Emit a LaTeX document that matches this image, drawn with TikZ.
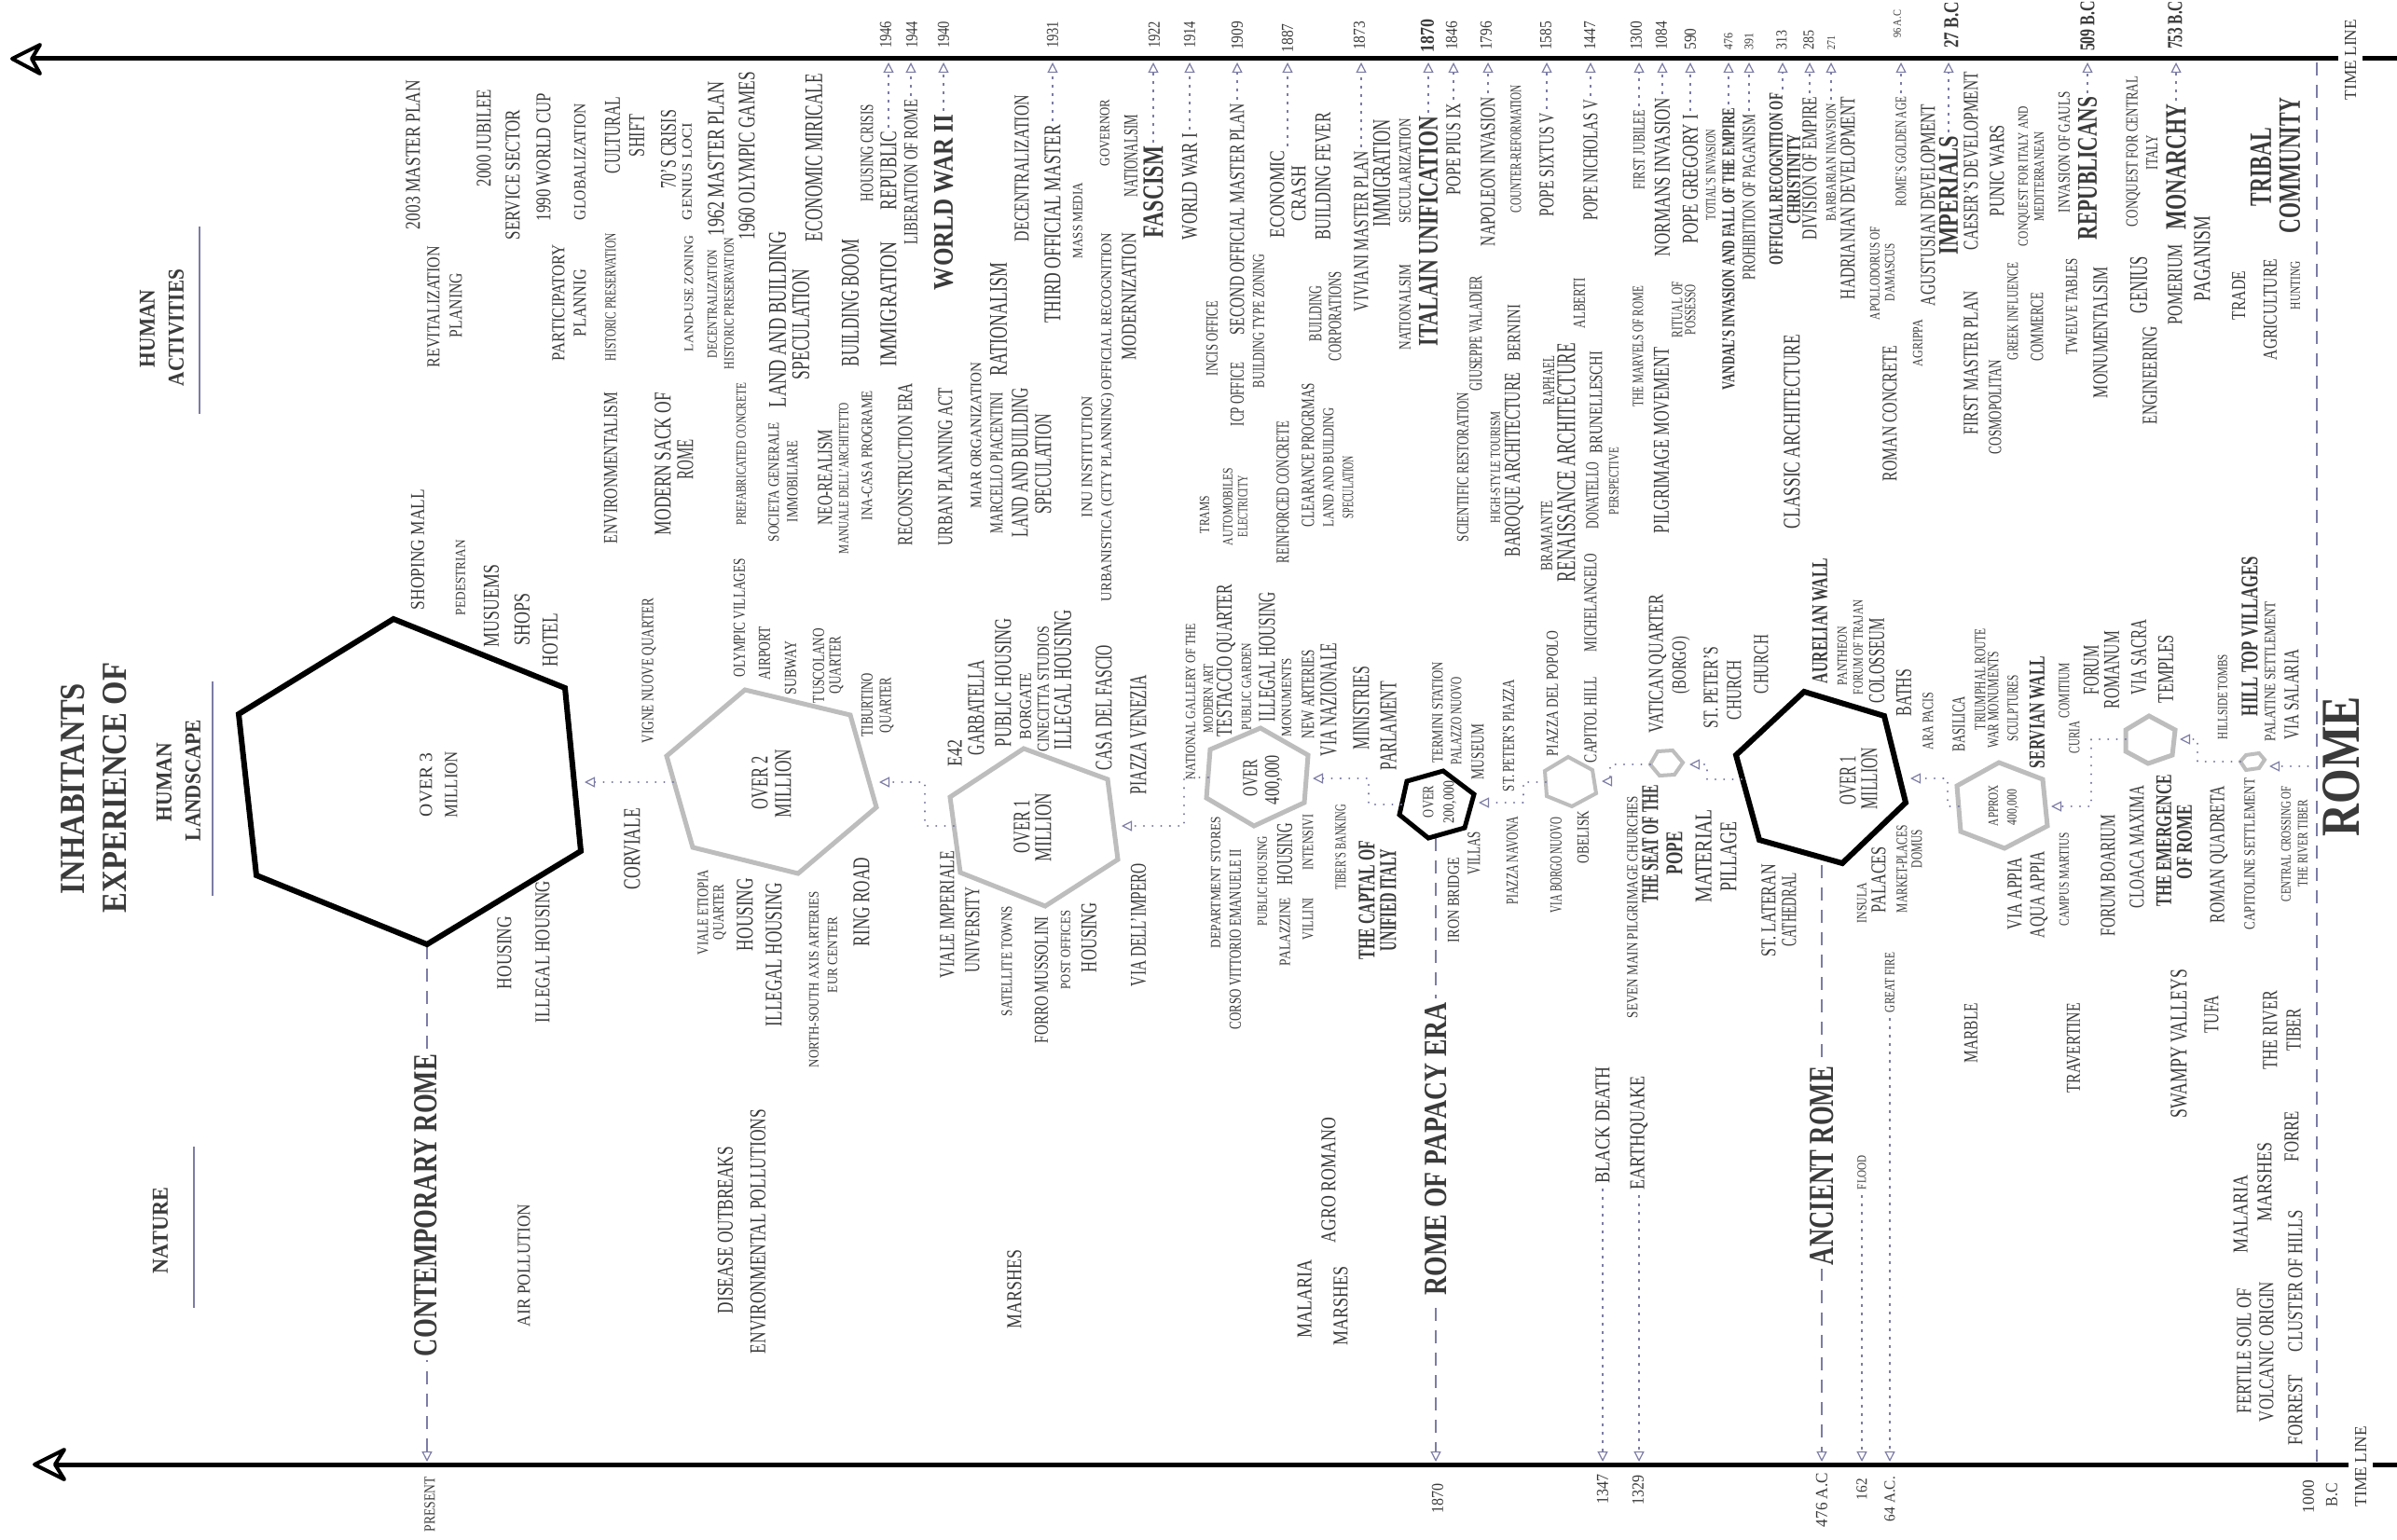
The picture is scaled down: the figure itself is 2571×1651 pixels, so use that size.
\documentclass[tikz,border=0pt]{standalone}
\usepackage{fontspec}
\setmainfont{Liberation Serif}
\usepackage{graphicx}
\usetikzlibrary{arrows.meta}
\definecolor{txtc}{HTML}{3A3A3A}
\definecolor{lnk}{HTML}{7C7CA6}
\definecolor{hexg}{HTML}{BDBDBD}
\newcounter{tn}
\newcommand\tx[6][]{\stepcounter{tn}\node[lbl,#1] (t\arabic{tn}) at (#2,#3) {\resizebox{#4pt}{#5pt}{#6}};}
\tikzset{
  lbl/.style={rotate=90, inner sep=0pt, text=txtc, anchor=center},
  tip/.style={-{Triangle[open,length=11pt,width=11pt,line width=1.2pt]}},
  dl/.style={draw=lnk, line width=1.6pt, dash pattern=on 3pt off 6pt, tip},
  hl/.style={draw=lnk, line width=2pt, line cap=round, dash pattern=on 0.3pt off 9pt, tip},
  era/.style={draw=lnk, line width=2pt, dash pattern=on 14pt off 10pt, tip},
  hdline/.style={draw=lnk, line width=1.6pt},
  tline/.style={draw=black, line width=5pt},
  thead/.style={draw=black, line width=4pt, fill=white, line join=round},
  hexb/.style={draw=black, line join=miter},
  hexgr/.style={draw=hexg, line join=miter},
  gap/.style={fill=white, inner xsep=4pt, inner ysep=2pt},
}
\begin{document}
\begin{tikzpicture}[x=1pt,y=-1pt]
\fill[white] (0,0) rectangle (2571,1651);
\useasboundingbox (0,0) rectangle (2571,1651);
% timelines
\coordinate (tlT) at (0,67);
\coordinate (tlB) at (0,1568);
\draw[tline] (34,63) -- (2571,63);
\draw[thead] (13,63) -- (43,48) -- (34,63) -- (43,79) -- cycle;
\draw[tline] (59,1571) -- (2571,1571);
\draw[thead] (37,1571) -- (69,1555) -- (59,1571) -- (69,1587) -- cycle;
% header rules
\draw[hdline] (214,243) -- (214,444);
\draw[hdline] (228,731) -- (228,961);
\draw[hdline] (208,1230) -- (208,1403);
% era lines
\coordinate (eraC) at (458,1015);
\coordinate (eraP) at (1540,899);
\coordinate (eraA) at (1954,928);
\draw[era] (eraC) -- (eraC |- tlB);
\draw[era] (eraP) -- (eraP |- tlB);
\draw[era] (eraA) -- (eraA |- tlB);
\coordinate (bcT) at (2485,67);
\draw[draw=lnk, line width=2pt, dash pattern=on 14pt off 10pt] (bcT) -- (bcT |- tlB);
% hexagons
\draw[hexb, line width=6pt] (422,664) -- (606,738) -- (623,913) -- (458,1013) -- (275,939) -- (256,766) -- cycle;
\draw[hexgr, line width=5pt] (799,740) -- (912,767) -- (940,866) -- (856,937) -- (743,909) -- (715,811) -- cycle;
\draw[hexgr, line width=5pt] (1098,803) -- (1188,836) -- (1199,922) -- (1121,972) -- (1030,936) -- (1019,855) -- cycle;
\draw[hexgr, line width=5pt] (1352,781) -- (1403,810) -- (1399,861) -- (1345,886) -- (1294,856) -- (1298,804) -- cycle;
\draw[hexb, line width=5pt] (1548,827) -- (1581,852) -- (1571,888) -- (1532,899) -- (1501,874) -- (1509,838) -- cycle;
\draw[hexgr, line width=4pt] (1682,812) -- (1708,826) -- (1712,851) -- (1686,865) -- (1659,854) -- (1657,827) -- cycle;
\draw[hexgr, line width=4pt] (1778,806) -- (1794,805) -- (1805,818) -- (1796,831) -- (1780,832) -- (1770,820) -- cycle;
\draw[hexb, line width=6pt] (1935,742) -- (2021,768) -- (2044,861) -- (1976,926) -- (1887,901) -- (1862,810) -- cycle;
\draw[hexgr, line width=5pt] (2144,818) -- (2191,836) -- (2196,886) -- (2150,910) -- (2103,892) -- (2099,843) -- cycle;
\draw[hexgr, line width=5pt] (2305,768) -- (2333,783) -- (2330,810) -- (2304,819) -- (2280,806) -- (2280,783) -- cycle;
\draw[hexgr, line width=4pt] (2409,810) -- (2423,808) -- (2429,815) -- (2423,824) -- (2409,826) -- (2403,817) -- cycle;
% hex links
\coordinate (a1) at (722,839); \coordinate (b1) at (627,839);
\draw[hl] (a1) -- (b1);
\coordinate (a2) at (1023,886); \coordinate (b2) at (943,839);
\draw[hl] (a2) -- (992,886) -- (992,839) -- (b2);
\coordinate (a3) at (1296,834); \coordinate (b3) at (1203,886);
\draw[hl] (a3) -- (1270,834) -- (1270,886) -- (b3);
\coordinate (a4) at (1503,863); \coordinate (b4) at (1408,835);
\draw[hl] (a4) -- (1468,863) -- (1468,835) -- (b4);
\coordinate (a5) at (1658,839); \coordinate (b5) at (1586,861);
\draw[hl] (a5) -- (1634,839) -- (1634,861) -- (b5);
\coordinate (a6) at (1770,820); \coordinate (b6) at (1718,838);
\draw[hl] (a6) -- (1727,820) -- (1727,838) -- (b6);
\coordinate (a7) at (1868,836); \coordinate (b7) at (1812,820);
\draw[hl] (a7) -- (1831,836) -- (1831,820) -- (b7);
\coordinate (a8) at (2101,865); \coordinate (b8) at (2049,835);
\draw[hl] (a8) -- (2089,865) -- (2089,835) -- (b8);
\coordinate (a9) at (2280,793); \coordinate (b9) at (2200,865);
\draw[hl] (a9) -- (2243,793) -- (2243,865) -- (b9);
\coordinate (a10) at (2403,817); \coordinate (b10) at (2338,793);
\draw[hl] (a10) -- (2357,817) -- (2357,793) -- (b10);
\coordinate (a11) at (2485,822); \coordinate (b11) at (2434,822);
\draw[hl] (a11) -- (b11);

% ---------- labels ----------
\tx{158}{352.5}{83}{16}{\bfseries HUMAN}
\tx{189}{351.5}{125}{16}{\bfseries ACTIVITIES}
\tx{443}{166}{160}{15}{2003 MASTER PLAN}
\tx{465}{329}{130}{13}{REVITALIZATION}
\tx{489}{327.5}{69}{13}{PLANING}
\tx{519}{148}{104}{15}{2000 JUBILEE}
\tx{550}{187.5}{139}{15}{SERVICE SECTOR}
\tx{583}{168.5}{137}{15}{1990 WORLD CUP}
\tx{622}{173.5}{125}{12}{GLOBALIZATION}
\tx{599}{324.5}{125}{13}{PARTICIPATORY}
\tx{622}{325}{72}{13}{PLANNIG}
\tx{448}{589.5}{129}{14}{SHOPING MALL}
\tx{657}{145}{82}{16}{CULTURAL}
\tx{683}{145.5}{45}{16}{SHIFT}
\tx{655}{318.5}{137}{11}{HISTORIC PRESERVATION}
\tx{655}{502}{162}{14}{ENVIRONMENTALISM}
\tx{717}{160}{84}{16}{70'S CRISIS}
\tx{737}{184}{104}{10}{GENIUS LOCI}
\tx{711}{497.5}{153}{17}{MODERN SACK OF}
\tx{735}{492.5}{43}{17}{ROME}
\tx{739}{315}{124}{9}{LAND-USE ZONING}
\tx{764}{326}{116}{10}{DECENTRALIZATION}
\tx{768}{170}{166}{17}{1962 MASTER PLAN}
\tx{782}{325.5}{141}{10}{HISTORIC PRESERVATION}
\tx{801}{167}{180}{17}{1960 OLYMPIC GAMES}
\tx{795}{487}{152}{10}{PREFABRICATED CONCRETE}
\tx{834}{342.5}{189}{18}{LAND AND BUILDING}
\tx{859}{348}{118}{18}{SPECULATION}
\tx{830}{517}{128}{11}{SOCIETA GENERALE}
\tx{850}{516.5}{87}{11}{IMMOBILIARE}
\tx{873}{169}{180}{18}{ECONOMIC MIRICALE}
\tx{912}{325}{136}{18}{BUILDING BOOM}
\tx{885}{512}{102}{15}{NEO-REALISM}
\tx{905}{513}{162}{10}{MANUALE DELL'ARCHITETTO}
\tx{930}{488.5}{139}{11}{INA-CASA PROGRAME}
\tx{930}{164}{104}{13}{HOUSING CRISIS}
\tx[alias=rep]{953}{183}{84}{17}{REPUBLIC}
\tx{953}{326}{134}{17}{IMMIGRATION}
\tx[alias=lib]{977}{184.5}{155}{14}{LIBERATION OF ROME}
\tx{971}{498}{174}{15}{RECONSTRUCTION ERA}
\tx[alias=wwb]{1012}{217}{188}{20}{\bfseries WORLD WAR II}
\tx{1014}{500.5}{169}{15}{URBAN PLANNING ACT}
\tx{1047}{467}{156}{11}{MIAR ORGANIZATION}
\tx{1071}{342.5}{121}{18}{RATIONALISM}
\tx{1096}{180.5}{157}{15}{DECENTRALIZATION}
\tx{1069}{496.5}{151}{13}{MARCELLO PIACENTINI}
\tx{1094}{496}{160}{17}{LAND AND BUILDING}
\tx{1119}{497.5}{107}{17}{SPECULATION}
\tx[alias=third]{1129}{240}{212}{17}{THIRD OFFICIAL MASTER}
\tx{1156}{236.5}{81}{10}{MASS MEDIA}
\tx{1166}{490}{130}{11}{INU INSTITUTION}
\tx{1188}{447.5}{395}{11}{URBANISTICA (CITY PLANNING) OFFICIAL RECOGNITION}
\tx{1185}{142.5}{71}{10}{GOVERNOR}
\tx{1211}{318}{136}{15}{MODERNIZATION}
\tx{1213}{167}{88}{14}{NATIONALSIM}
\tx[alias=fasc]{1237}{206}{98}{21}{\bfseries FASCISM}
\tx[alias=wwa]{1276}{200}{114}{16}{WORLD WAR I}
\tx{1300}{363}{80}{12}{INCIS OFFICE}
\tx[alias=second]{1327}{235}{248}{15}{SECOND OFFICIAL MASTER PLAN}
\tx{1327}{423}{68}{14}{ICP OFFICE}
\tx{1350}{344.5}{143}{12}{BUILDING TYPE ZONING}
\tx{1292}{552}{40}{10}{TRAMS}
\tx{1317}{543.5}{83}{10}{AUTOMOBILES}
\tx{1333}{543}{66}{10}{ELECTRICITY}
\tx{1370}{208.5}{93}{15}{ECONOMIC}
\tx{1393}{207.5}{59}{15}{CRASH}
\tx{1376}{528}{152}{13}{REINFORCED CONCRETE}
\tx{1419}{189}{136}{16}{BUILDING FEVER}
\tx{1411}{336.5}{59}{13}{BUILDING}
\tx{1432}{339}{96}{13}{CORPORATIONS}
\tx{1403}{488}{154}{13}{CLEARANCE PROGRMAS}
\tx{1425}{501}{128}{11}{LAND AND BUILDING}
\tx{1446}{522.5}{67}{11}{SPECULATION}
\tx[alias=viv]{1460}{248}{172}{15}{VIVIANI MASTER PLAN}
\tx{1482}{185.5}{115}{18}{IMMIGRATION}
\tx{1507}{183}{112}{12}{SECULARIZATION}
\tx{1507}{329.5}{91}{12}{NATIONALSIM}
\tx[alias=ital]{1532}{248}{246}{20}{\bfseries ITALAIN UNIFICATION}
\tx[alias=pius]{1559}{160}{98}{15}{POPE PIUS IX}
\tx[alias=napo]{1596}{184}{160}{15}{NAPOLEON INVASION}
\tx{1583}{357.5}{123}{13}{GIUSEPPE VALADIER}
\tx{1569}{501}{160}{12}{SCIENTIFIC RESTORATION}
\tx{1626}{159.5}{137}{11}{COUNTER-REFORMATION}
\tx{1604}{501}{120}{10}{HIGH-STYLE TOURISM}
\tx{1624}{357}{60}{13}{BERNINI}
\tx{1624}{498.5}{197}{16}{BAROQUE ARCHITECTURE}
\tx[alias=sixt]{1659}{176.5}{111}{15}{POPE SIXTUS V}
\tx{1661}{408}{52}{12}{RAPHAEL}
\tx{1659}{575}{75}{12}{BRAMANTE}
\tx{1680}{496}{256}{19}{RENAISSANCE ARCHITECTURE}
\tx{1694}{325}{54}{12}{ALBERTI}
\tx[alias=nich]{1706}{171.5}{129}{15}{POPE NICHOLAS V}
\tx{1712}{431.5}{109}{13}{BRUNELLESCHI}
\tx{1708}{531.5}{71}{13}{DONATELLO}
\tx{1731}{516}{72}{10}{PERSPECTIVE}
\tx{1706}{646.5}{105}{13}{MICHELANGELO}
\tx[alias=jub]{1758}{160.5}{85}{12}{FIRST JUBILEE}
\tx{1757}{371.5}{129}{11}{THE MARVELS OF ROME}
\tx{1782}{472.5}{199}{16}{PILGRIMAGE MOVEMENT}
\tx[alias=norm]{1783}{190}{170}{16}{NORMANS INVASION}
\tx[alias=greg]{1813}{192}{138}{16}{POPE GREGORY I}
\tx{1799}{332}{60}{11}{RITUAL OF}
\tx{1813}{332}{54}{11}{POSSESSO}
\tx{1835}{187.5}{97}{10}{TOTIAL'S INVASION}
\tx[alias=vand]{1854}{267}{302}{13}{\bfseries VANDAL'S INVASION AND FALL OF THE EMPIRE}
\tx[alias=prohib]{1876}{211.5}{177}{13}{PROHIBITION OF PAGANISM}
\tx{1905}{192}{184}{14}{\bfseries OFFICIAL RECOGNITION OF}
\tx{1924}{192}{96}{14}{\bfseries CHRISTINITY}
\tx{1922}{463}{208}{17}{CLASSIC ARCHITECTURE}
\tx[alias=divi]{1941}{180.5}{153}{15}{DIVISION OF EMPIRE}
\tx[alias=barb]{1964}{174}{126}{10}{BARBARIAN INAVSION}
\tx{1982}{212.5}{217}{15}{HADRIANIAN DEVELOPMENT}
\tx{2011}{293}{100}{10}{APOLLODORUS OF}
\tx{2027}{292}{62}{10}{DAMASCUS}
\tx[alias=golden]{2039}{162.5}{117}{11}{ROME'S GOLDEN AGE}
\tx{2027}{443.5}{145}{15}{ROMAN CONCRETE}
\tx{2057}{368}{50}{10}{AGRIPPA}
\tx{2068}{220}{216}{15}{AGUSTUSIAN DEVELOPMENT}
\tx[alias=imper]{2090}{209.5}{127}{20}{\bfseries IMPERIALS}
\tx{2114}{172.5}{191}{15}{CAESER'S DEVELOPMENT}
\tx{2114}{389}{154}{15}{FIRST MASTER PLAN}
\tx{2140}{436.5}{101}{13}{COSMOPOLITAN}
\tx{2142}{183}{98}{15}{PUNIC WARS}
\tx{2159}{334}{104}{11}{GREEK INFLUENCE}
\tx{2171}{189}{150}{10}{CONQUEST FOR ITALY AND}
\tx{2187}{189}{96}{10}{MEDITERRANEAN}
\tx{2185}{350.5}{73}{13}{COMMERCE}
\tx{2214}{163}{130}{12}{INVASION OF GAULS}
\tx{2222}{328.5}{103}{12}{TWELVE TABLES}
\tx[alias=repub]{2239}{180.5}{153}{20}{\bfseries REPUBLICANS}
\tx{2253}{356.5}{141}{15}{MONUMENTALSIM}
\tx{2288}{162.5}{161}{12}{CONQUEST FOR CENTRAL}
\tx{2308}{163.5}{37}{12}{ITALY}
\tx{2294}{305.5}{61}{18}{GENIUS}
\tx{2306}{402.5}{105}{15}{ENGINEERING}
\tx[alias=monar]{2334}{179}{134}{21}{\bfseries MONARCHY}
\tx{2333}{305}{86}{15}{POMERIUM}
\tx{2362}{277.5}{91}{17}{PAGANISM}
\tx{2425}{179}{84}{22}{\bfseries TRIBAL}
\tx{2456}{177.5}{145}{22}{\bfseries COMMUNITY}
\tx{2401}{317}{52}{14}{TRADE}
\tx{2435}{332}{108}{14}{AGRICULTURE}
\tx{2462}{306}{52}{10}{HUNTING}
\tx[fill=white, inner xsep=0pt, inner ysep=7pt]{2521}{64}{86}{12}{TIME LINE}
% middle band
\tx{78}{846}{226}{25}{\bfseries INHABITANTS}
\tx{123}{845}{268}{25}{\bfseries EXPERIENCE OF}
\tx{176}{839}{84}{16}{\bfseries HUMAN}
\tx{207}{837}{130}{16}{\bfseries LANDSCAPE}
\tx{494}{619.5}{81}{10}{PEDESTRIAN}
\tx{527}{650}{88}{16}{MUSUEMS}
\tx{560}{664}{56}{16}{SHOPS}
\tx{590}{686.5}{57}{16}{HOTEL}
\tx{457}{842}{68}{13}{OVER 3}
\tx{484}{841.5}{71}{13}{MILLION}
\tx{541}{1022}{78}{15}{HOUSING}
\tx{582}{1021}{152}{15}{ILLEGAL HOUSING}
\tx{678}{910.5}{87}{17}{CORVIALE}
\tx{696}{719.5}{155}{12}{VIGNE NUOVE QUARTER}
\tx{793}{662.5}{127}{12}{OLYMPIC VILLAGES}
\tx{820}{700.5}{57}{12}{AIRPORT}
\tx{848}{716.5}{57}{12}{SUBWAY}
\tx{878}{714}{80}{12}{TUSCOLANO}
\tx{897}{713.5}{61}{12}{QUARTER}
\tx{930}{756}{68}{12}{TIBURTINO}
\tx{951}{756.5}{59}{12}{QUARTER}
\tx{815}{839.5}{57}{17}{OVER 2}
\tx{840}{840.5}{73}{17}{MILLION}
\tx{754}{978.5}{91}{11}{VIALE ETIOPIA}
\tx{772}{978.5}{59}{11}{QUARTER}
\tx{799}{981}{78}{17}{HOUSING}
\tx{830}{1024}{154}{17}{ILLEGAL HOUSING}
\tx{873}{1050.5}{189}{10}{NORTH-SOUTH AXIS ARTERIES}
\tx{893}{1024.5}{81}{10}{EUR CENTER}
\tx{924}{967.5}{95}{17}{RING ROAD}
\tx{1024}{807.5}{29}{15}{E42}
\tx{1047}{759}{102}{17}{GARBATELLA}
\tx{1076}{732}{138}{17}{PUBLIC HOUSING}
\tx{1100}{757.5}{71}{12}{BORGATE}
\tx{1119}{739}{134}{12}{CINECITTA STUDIOS}
\tx{1140}{729}{150}{18}{ILLEGAL HOUSING}
\tx{1184}{759}{134}{17}{CASA DEL FASCIO}
\tx{1221}{788}{128}{17}{PIAZZA VENEZIA}
\tx{1277}{752.5}{167}{10}{NATIONAL GALLERY OF THE}
\tx{1296}{749.5}{73}{10}{MODERN ART}
\tx{1096}{886.5}{57}{17}{OVER 1}
\tx{1119}{887.5}{73}{17}{MILLION}
\tx{1016}{981}{136}{15}{VIALE IMPERIALE}
\tx{1043}{997.5}{91}{15}{UNIVERSITY}
\tx{1080}{1031}{118}{11}{SATELLITE TOWNS}
\tx{1117}{1051}{136}{14}{FORRO MUSSOLINI}
\tx{1143}{1019}{84}{10}{POST OFFICES}
\tx{1168}{1005.5}{75}{16}{HOUSING}
\tx{1221}{992}{132}{16}{VIA DELL'IMPERO}
\tx{1304}{946.5}{141}{10}{DEPARTMENT STORES}
\tx{1325}{1007.5}{193}{12}{CORSO VITTORIO EMANUELE II}
\tx{1315}{708.5}{163}{16}{TESTACCIO QUARTER}
\tx{1337}{736.5}{93}{10}{PUBLIC GARDEN}
\tx{1359}{704.5}{139}{17}{ILLEGAL HOUSING}
\tx{1380}{748}{84}{10}{MONUMENTS}
\tx{1403}{744.5}{95}{13}{NEW ARTERIES}
\tx{1425}{750.5}{121}{17}{VIA NAZIONALE}
\tx{1460}{759.5}{89}{17}{MINISTRIES}
\tx{1489}{778.5}{95}{17}{PARLAMENT}
\tx{1341}{834.5}{39}{15}{OVER}
\tx{1366}{836.5}{53}{15}{400,000}
\tx{1354}{945}{96}{10}{PUBLIC HOUSING}
\tx{1378}{999.5}{73}{11}{PALAZZINE}
\tx{1378}{916}{66}{16}{HOUSING}
\tx{1403}{985.5}{45}{11}{VILLINI}
\tx{1403}{903.5}{59}{11}{INTENSIVI}
\tx{1438}{908.5}{91}{11}{TIBER'S BANKING}
\tx{1466}{965.5}{127}{17}{\bfseries THE CAPTAL OF}
\tx{1489}{965.5}{109}{17}{\bfseries UNIFIED ITALY}
\tx{1532}{860}{34}{11}{OVER}
\tx{1555}{860.5}{45}{11}{200,000}
\tx{1542}{764}{108}{11}{TERMINI STATION}
\tx{1562}{773}{94}{11}{PALAZZO NUOVO}
\tx{1585}{806.5}{59}{13}{MUSEUM}
\tx{1559}{965.5}{91}{12}{IRON BRIDGE}
\tx{1581}{915}{46}{13}{VILLAS}
\tx{1618}{789}{120}{12}{ST. PETER'S PIAZZA}
\tx{1622}{923}{94}{12}{PIAZZA NAVONA}
\tx{1665}{744}{134}{12}{PIAZZA DEL POPOLO}
\tx{1706}{772}{92}{13}{CAPITOL HILL}
\tx{1669}{928}{102}{12}{VIA BORGO NUOVO}
\tx{1698}{898}{56}{12}{OBELISK}
\tx{1778}{712}{148}{15}{VATICAN QUARTER}
\tx{1803}{713.5}{61}{15}{(BORGO)}
\tx{1835}{737.5}{87}{15}{ST. PETER'S}
\tx{1860}{740}{64}{15}{CHURCH}
\tx{1889}{712.5}{63}{15}{CHURCH}
\tx{1751}{973}{238}{11}{SEVEN MAIN PILGRIMAGE CHURCHES}
\tx{1770}{905}{126}{17}{\bfseries THE SEAT OF THE}
\tx{1796}{915}{46}{17}{\bfseries POPE}
\tx{1827}{918}{100}{17}{MATERIAL}
\tx{1854}{918.5}{75}{17}{PILLAGE}
\tx{1897}{976.5}{99}{15}{ST. LATERAN}
\tx{1919}{975.5}{79}{15}{CATHEDRAL}
\tx{1952}{666}{134}{16}{\bfseries AURELIAN WALL}
\tx{1976}{703.5}{63}{10}{PANTHEON}
\tx{1993}{694.5}{101}{10}{FORUM OF TRAJAN}
\tx{2013}{708.5}{91}{16}{COLOSSEUM}
\tx{2042}{743}{50}{16}{BATHS}
\tx{2068}{773.5}{61}{11}{ARA PACIS}
\tx{2101}{776.5}{59}{13}{BASILICA}
\tx{2124}{728.5}{109}{11}{TRIUMPHAL ROUTE}
\tx{2138}{750.5}{103}{11}{WAR MONUMENTS}
\tx{2159}{759.5}{71}{11}{SCULPTURES}
\tx{2185}{764}{120}{16}{\bfseries SERVIAN WALL}
\tx{2214}{740.5}{59}{11}{COMITIUM}
\tx{2225}{791}{34}{11}{CURIA}
\tx{2243}{718.5}{53}{16}{FORUM}
\tx{2265}{718.5}{83}{16}{ROMANUM}
\tx{2294}{705}{80}{16}{VIA SACRA}
\tx{2323}{717.5}{73}{16}{TEMPLES}
\tx{1982}{837}{52}{17}{OVER 1}
\tx{2005}{835}{66}{17}{MILLION}
\tx{2138}{864}{44}{10}{APPROX}
\tx{2159}{866}{38}{10}{400,000}
\tx{2384}{747.5}{91}{10}{HILLSIDE TOMBS}
\tx{2413}{682.5}{171}{17}{\bfseries HILL TOP VILLAGES}
\tx{2435}{720}{150}{11}{PALATINE SETTLEMENT}
\tx{2458}{745}{96}{15}{VIA SALARIA}
\tx{2511}{822}{150}{39}{\bfseries ROME}
\tx{1997}{968.5}{43}{10}{INSULA}
\tx{2015}{943.5}{71}{15}{PALACES}
\tx{2040}{932}{94}{11}{MARKET-PLACES}
\tx{2056}{910.5}{41}{11}{DOMUS}
\tx[alias=gfire]{2027}{1054}{64}{10}{GREAT FIRE}
\tx{2161}{958.5}{77}{15}{VIA APPIA}
\tx{2187}{959.5}{93}{15}{AQUA APPIA}
\tx{2214}{943}{100}{10}{CAMPUS MARTIUS}
\tx{2261}{939}{130}{15}{FORUM BOARIUM}
\tx{2292}{908.5}{131}{15}{CLOACA MAXIMA}
\tx{2321}{901.5}{141}{16}{\bfseries THE EMERGENCE}
\tx{2343}{903}{80}{16}{\bfseries OF ROME}
\tx{2380}{916.5}{147}{15}{ROMAN QUADRETA}
\tx{2413}{916}{162}{11}{CAPITOLINE SETTLEMENT}
\tx{2452}{905}{124}{10}{CENTRAL CROSSING OF}
\tx{2470}{904.5}{93}{10}{THE RIVER TIBER}
% nature band
\tx{172}{1320}{92}{16}{\bfseries NATURE}
\tx[gap]{457}{1293}{324}{24}{\bfseries CONTEMPORARY ROME}
\tx{562}{1357.5}{131}{13}{AIR POLLUTION}
\tx{461}{1613.5}{59}{11}{PRESENT}
\tx{778}{1319.5}{179}{16}{DISEASE OUTBREAKS}
\tx{813}{1321}{262}{16}{ENVIRONMENTAL POLLUTIONS}
\tx{1088}{1383}{84}{15}{MARSHES}
\tx{1399}{1393}{84}{15}{MALARIA}
\tx{1425}{1266}{134}{15}{AGRO ROMANO}
\tx{1438}{1400.5}{85}{15}{MARSHES}
\tx[gap]{1540}{1232}{314}{23}{\bfseries ROME OF PAPACY ERA}
\tx[alias=bd]{1719}{1207}{124}{15}{BLACK DEATH}
\tx[alias=eq]{1758}{1215}{122}{15}{EARTHQUAKE}
\tx{1542}{1607}{32}{12}{1870}
\tx{1719}{1597}{32}{12}{1347}
\tx{1757}{1598}{32}{12}{1329}
\tx[gap]{1954}{1250.5}{213}{25}{\bfseries ANCIENT ROME}
\tx[alias=flood]{1997}{1257.5}{37}{9}{FLOOD}
\tx{2114}{1108}{64}{14}{MARBLE}
\tx{2224}{1124}{96}{14}{TRAVERTINE}
\tx{2337}{1119.5}{159}{17}{SWAMPY VALLEYS}
\tx{2372}{1088}{40}{15}{TUFA}
\tx{2435}{1105}{84}{15}{THE RIVER}
\tx{2460}{1105}{45}{15}{TIBER}
\tx{2403}{1302}{84}{15}{MALARIA}
\tx{2429}{1268}{84}{15}{MARSHES}
\tx{2458}{1219}{54}{15}{FORRE}
\tx{2407}{1449}{134}{15}{FERTILE SOIL OF}
\tx{2431}{1450}{150}{15}{VOLCANIC ORIGIN}
\tx{2462}{1512.5}{75}{15}{FORREST}
\tx{2462}{1374}{152}{15}{CLUSTER OF HILLS}
\tx{1954}{1609}{58}{12}{476 A.C}
\tx{1997}{1597.5}{23}{11}{162}
\tx{2027}{1608}{48}{11}{64 A.C.}
\tx{2476}{1605.5}{35}{12}{1000}
\tx{2501}{1603.5}{25}{12}{B.C}
\tx[fill=white, inner xsep=0pt, inner ysep=7pt]{2532}{1573}{86}{12}{TIME LINE}
% top dates
\tx{950}{37.5}{29}{12}{1946}
\tx{978}{37.5}{29}{12}{1944}
\tx{1012}{37.5}{29}{12}{1940}
\tx{1129}{37.5}{29}{12}{1931}
\tx{1238}{37.5}{29}{12}{1922}
\tx{1276}{37.5}{29}{12}{1914}
\tx{1327}{38.5}{31}{12}{1909}
\tx{1381}{41}{31}{12}{1887}
\tx{1458}{38.5}{31}{12}{1873}
\tx{1531}{39}{36}{14}{\bfseries 1870}
\tx{1557}{38.5}{31}{12}{1846}
\tx{1594}{38.5}{31}{12}{1796}
\tx{1658}{38.5}{31}{12}{1585}
\tx{1705}{38.5}{31}{12}{1447}
\tx{1755}{38.5}{31}{12}{1300}
\tx{1782}{38.5}{31}{12}{1084}
\tx{1813}{42}{23}{12}{590}
\tx{1854}{45}{18}{9}{476}
\tx{1876}{45}{18}{9}{391}
\tx{1911}{43}{21}{11}{313}
\tx{1940}{43}{21}{11}{285}
\tx{1964}{46}{15}{8}{271}
\tx{2035}{26}{30}{8}{96 A.C}
\tx{2093}{27}{50}{15}{\bfseries 27 B.C}
\tx{2239}{28}{54}{15}{\bfseries 509 B.C}
\tx{2333}{27}{52}{15}{\bfseries 753 B.C}
% date connectors
\foreach \n in {rep,lib,wwb,third,fasc,wwa,second,viv,ital,pius,napo,sixt,nich,jub,norm,greg,vand,prohib,divi,barb,golden,imper,repub,monar}
  \draw[dl, shorten <=4pt] (\n.east) -- (\n.east |- tlT);
\coordinate (econ) at (1381,157);
\draw[dl] (econ) -- (econ |- tlT);
\coordinate (offrec) at (1912,96);
\draw[dl] (offrec) -- (offrec |- tlT);
\foreach \n in {bd,eq,flood,gfire}
  \draw[dl, shorten <=6pt] (\n.west) -- (\n.west |- tlB);
\end{tikzpicture}
\end{document}
